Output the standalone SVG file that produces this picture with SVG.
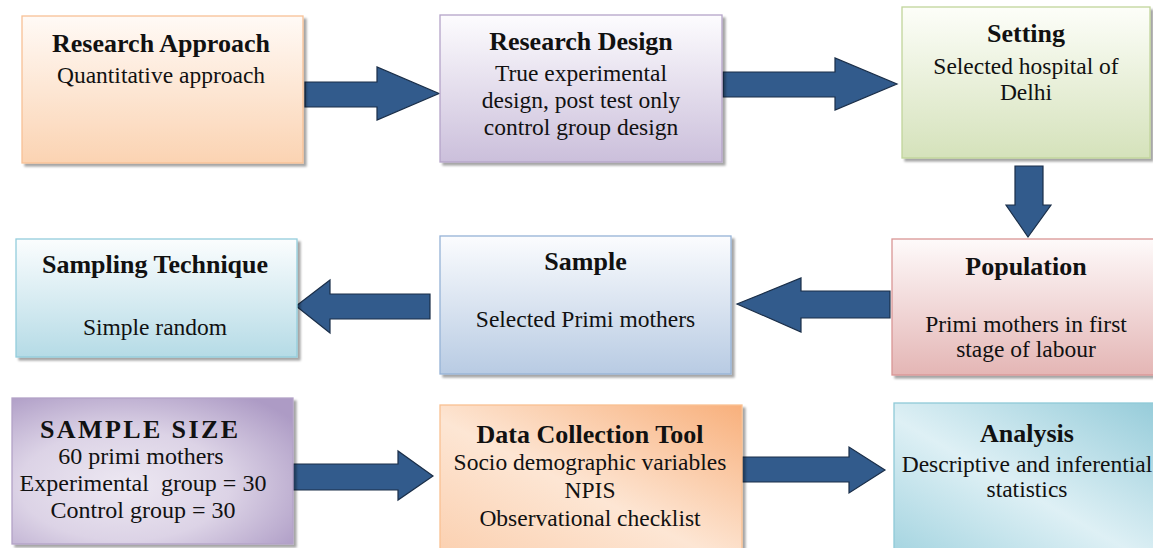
<svg xmlns="http://www.w3.org/2000/svg" width="1153" height="548" viewBox="0 0 1153 548">
<defs>
<filter id="sh" x="-5%" y="-5%" width="115%" height="115%">
<feDropShadow dx="3" dy="3" stdDeviation="1.2" flood-color="#000" flood-opacity="0.35"/>
</filter>
<linearGradient id="gOrange" x1="0" y1="0" x2="0" y2="1"><stop offset="0" stop-color="#fffaf6"/><stop offset="1" stop-color="#fbd3b2"/></linearGradient>
<linearGradient id="gLav" x1="0" y1="0" x2="0" y2="1"><stop offset="0" stop-color="#fdfcfe"/><stop offset="1" stop-color="#cbbfdb"/></linearGradient>
<linearGradient id="gGreen" x1="0" y1="0" x2="0" y2="1"><stop offset="0" stop-color="#fdfef9"/><stop offset="1" stop-color="#d5e2bb"/></linearGradient>
<linearGradient id="gRed" x1="0" y1="0" x2="0" y2="1"><stop offset="0" stop-color="#fefafa"/><stop offset="1" stop-color="#e4b6b5"/></linearGradient>
<linearGradient id="gBlue" x1="0" y1="0" x2="0" y2="1"><stop offset="0" stop-color="#fbfcfe"/><stop offset="1" stop-color="#b8cbe3"/></linearGradient>
<linearGradient id="gCyan" x1="0" y1="0" x2="0" y2="1"><stop offset="0" stop-color="#fbfdfe"/><stop offset="1" stop-color="#b5dbe6"/></linearGradient>
<radialGradient id="gPurple" cx="0.4" cy="0.6" r="0.75"><stop offset="0" stop-color="#ede8f2"/><stop offset="0.5" stop-color="#dcd3e6"/><stop offset="1" stop-color="#ad9bc5"/></radialGradient>
<linearGradient id="gPeach" x1="1" y1="0" x2="0" y2="1"><stop offset="0" stop-color="#f8b07c"/><stop offset="0.55" stop-color="#fde6d4"/><stop offset="1" stop-color="#fbd0b0"/></linearGradient>
<linearGradient id="gTeal" x1="0" y1="1" x2="1" y2="0"><stop offset="0" stop-color="#a4d4e0"/><stop offset="0.45" stop-color="#def0f5"/><stop offset="1" stop-color="#94cbd9"/></linearGradient>
<style>
.box{filter:url(#sh);stroke-width:1.3}
.t{font-family:"Liberation Serif","Times New Roman",serif;fill:#111;text-anchor:middle;white-space:pre}
.b{font-weight:bold;font-size:26px}
.r{font-size:23.5px}
.r2{font-size:24px}
.arr{fill:#325b8c;stroke:#1a2e48;stroke-width:1.2;stroke-linejoin:miter}
</style>
</defs>
<rect width="1153" height="548" fill="#fff"/>

<g id="connectors">
<polygon class="arr" points="305,82 377,82 377,67 439,93.5 377,120 377,107 305,107"/>
<polygon class="arr" points="723,72 835,72 835,58 897,84 835,110 835,97 723,97"/>
<polygon class="arr" points="1015,166 1043,166 1043,205 1051,205 1028,237 1006,205 1015,205"/>
<polygon class="arr" points="890,291 801,291 801,278 737,304 801,332 801,318 890,318"/>
<polygon class="arr" points="430,294 330,294 330,280 296,306 330,333 330,319 430,319"/>
<polygon class="arr" points="293,464 398,464 398,451 433,476 398,500 398,490 293,490"/>
<polygon class="arr" points="742,457 849,457 849,447 885,470 849,493 849,482 742,482"/>
</g>

<g id="research-approach">
<rect class="box" x="22" y="16" width="281" height="147" fill="url(#gOrange)" stroke="#f7c196"/>
<text class="t b" x="161" y="52">Research Approach</text>
<text class="t r" x="161" y="83">Quantitative approach</text>
</g>

<g id="research-design">
<rect class="box" x="440" y="15" width="282" height="147" fill="url(#gLav)" stroke="#b4a4c8"/>
<text class="t b" x="581" y="50">Research Design</text>
<text class="t r" x="581" y="81">True experimental</text>
<text class="t r" x="581" y="108">design, post test only</text>
<text class="t r" x="581" y="135">control group design</text>
</g>

<g id="setting">
<rect class="box" x="902" y="7" width="248" height="151" fill="url(#gGreen)" stroke="#c0d59a"/>
<text class="t b" x="1026" y="42">Setting</text>
<text class="t r" x="1026" y="74">Selected hospital of</text>
<text class="t r" x="1026" y="100">Delhi</text>
</g>

<g id="population">
<rect class="box" x="892" y="239" width="272" height="136" fill="url(#gRed)" stroke="#d99695"/>
<text class="t b" x="1026" y="275">Population</text>
<text class="t r" x="1026" y="332">Primi mothers in first</text>
<text class="t r" x="1026" y="357">stage of labour</text>
</g>

<g id="sample">
<rect class="box" x="440" y="236" width="291" height="138" fill="url(#gBlue)" stroke="#95b2d6"/>
<text class="t b" x="585.5" y="270">Sample</text>
<text class="t r" x="585.5" y="327">Selected Primi mothers</text>
</g>

<g id="sampling-technique">
<rect class="box" x="16" y="239" width="281" height="118" fill="url(#gCyan)" stroke="#93cddc"/>
<text class="t b" x="155" y="273">Sampling Technique</text>
<text class="t r" x="155" y="335">Simple random</text>
</g>

<g id="sample-size">
<rect class="box" x="12" y="398" width="281" height="146" fill="url(#gPurple)" stroke="#b3a2c7"/>
<text class="t b" x="139" y="438" textLength="198" lengthAdjust="spacing">SAMPLE SIZE</text>
<text class="t r2" x="141" y="464">60 primi mothers</text>
<text class="t r2" x="143" y="491">Experimental  group = 30</text>
<text class="t r2" x="143" y="518">Control group = 30</text>
</g>

<g id="data-collection-tool">
<rect class="box" x="440" y="405" width="302" height="150" fill="url(#gPeach)" stroke="#f9c092"/>
<text class="t b" x="590" y="443">Data Collection Tool</text>
<text class="t r" x="590" y="470">Socio demographic variables</text>
<text class="t r" x="590" y="498">NPIS</text>
<text class="t r" x="590" y="526">Observational checklist</text>
</g>

<g id="analysis">
<rect class="box" x="894" y="403" width="270" height="152" fill="url(#gTeal)" stroke="#8fcad8"/>
<text class="t b" x="1027" y="442">Analysis</text>
<text class="t r" x="1027" y="472">Descriptive and inferential</text>
<text class="t r" x="1027" y="497">statistics</text>
</g>
</svg>
